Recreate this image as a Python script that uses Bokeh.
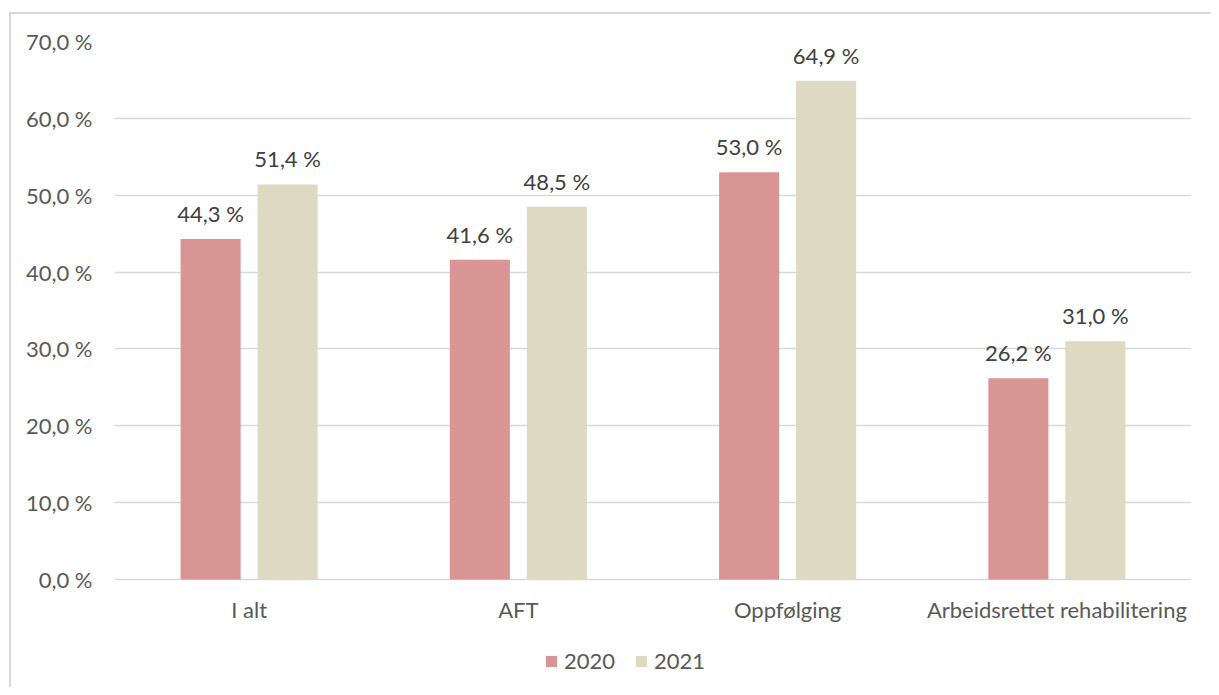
from bokeh.plotting import figure
from bokeh.models import ColumnDataSource, FactorRange, FixedTicker, Legend, LegendItem, Range1d
from bokeh.transform import dodge
from bokeh.core.properties import value
from bokeh.embed import file_html
from bokeh.resources import INLINE

categories = ["I alt", "AFT", "Oppfølging", "Arbeidsrettet rehabilitering"]
series_names = ["2020", "2021"]
values_2020 = [44.3, 41.6, 53.0, 26.2]
values_2021 = [51.4, 48.5, 64.9, 31.0]
y_ticks = [0, 10, 20, 30, 40, 50, 60, 70]
y_tick_labels = ["0,0 %", "10,0 %", "20,0 %", "30,0 %", "40,0 %", "50,0 %", "60,0 %", "70,0 %"]

FONT = "Lato"
FS = "22px"
COL_2020 = "#d99594"
COL_2021 = "#ddd9c3"

def fmt(v):
    return f"{v:.1f}".replace(".", ",") + " %"

src = ColumnDataSource(dict(
    cat=categories,
    base=[y_ticks[0]] * len(categories),
    v2020=values_2020,
    v2021=values_2021,
    l2020=[fmt(v) for v in values_2020],
    l2021=[fmt(v) for v in values_2021],
))

# value axis 0..70 occupies 538 px; the frame continues 108 px lower so that
# category labels and the legend can be drawn inside it
y_max = y_ticks[-1]
y_min = -y_max * 108 / 538

p = figure(
    x_range=FactorRange(*categories, range_padding=0),
    y_range=Range1d(y_min, y_max),
    width=1211, height=687,
    output_backend="svg", toolbar_location=None,
    min_border_left=114, min_border_right=20,
    min_border_top=41, min_border_bottom=0,
)
p.styles = {
    "background": "linear-gradient(#d9d9d9,#d9d9d9) 9px 12px / 100% 2px no-repeat, "
                  "linear-gradient(#d9d9d9,#d9d9d9) 9px 12px / 2px 100% no-repeat, white"
}
p.outline_line_color = None
p.background_fill_color = None
p.border_fill_color = None
p.xaxis.visible = False

r1 = p.vbar(x=dodge("cat", -0.143, range=p.x_range), top="v2020", bottom="base", width=0.223,
            source=src, fill_color=COL_2020, line_color=None)
r2 = p.vbar(x=dodge("cat", 0.143, range=p.x_range), top="v2021", bottom="base", width=0.223,
            source=src, fill_color=COL_2021, line_color=None)

for off, col, ycol in ((-0.143, "l2020", "v2020"), (0.143, "l2021", "v2021")):
    p.text(x=dodge("cat", off, range=p.x_range), y=ycol, text=col, source=src,
           text_align="center", text_baseline="bottom", y_offset=-12,
           text_font=value(FONT), text_font_size=FS, text_color="#404040")

# category labels under the baseline
p.text(x="cat", y="base", text="cat", source=src, text_align="center",
       text_baseline="middle", y_offset=30,
       text_font=value(FONT), text_font_size=FS, text_color="#595959")

p.xgrid.grid_line_color = None
p.ygrid.grid_line_color = "#d9d9d9"
p.ygrid.grid_line_width = 1.3
p.ygrid.ticker = FixedTicker(ticks=y_ticks)
p.yaxis.ticker = FixedTicker(ticks=y_ticks)
p.yaxis.major_label_overrides = {t: l for t, l in zip(y_ticks, y_tick_labels)}
p.yaxis.axis_line_color = None
p.yaxis.major_tick_line_color = None
p.yaxis.minor_tick_line_color = None
p.yaxis.major_label_text_font = FONT
p.yaxis.major_label_text_font_size = FS
p.yaxis.major_label_text_color = "#595959"
p.yaxis.major_label_standoff = 16

legend = Legend(
    items=[LegendItem(label=series_names[0], renderers=[r1]),
           LegendItem(label=series_names[1], renderers=[r2])],
    orientation="horizontal",
    location=(430, 13),
    label_text_font=FONT, label_text_font_size=FS, label_text_color="#595959",
    glyph_width=14, glyph_height=14, spacing=19, label_standoff=6,
    border_line_color=None, background_fill_alpha=0,
    padding=0, margin=0,
)
p.add_layout(legend, "center")

open("out.html", "w").write(file_html(p, INLINE))
